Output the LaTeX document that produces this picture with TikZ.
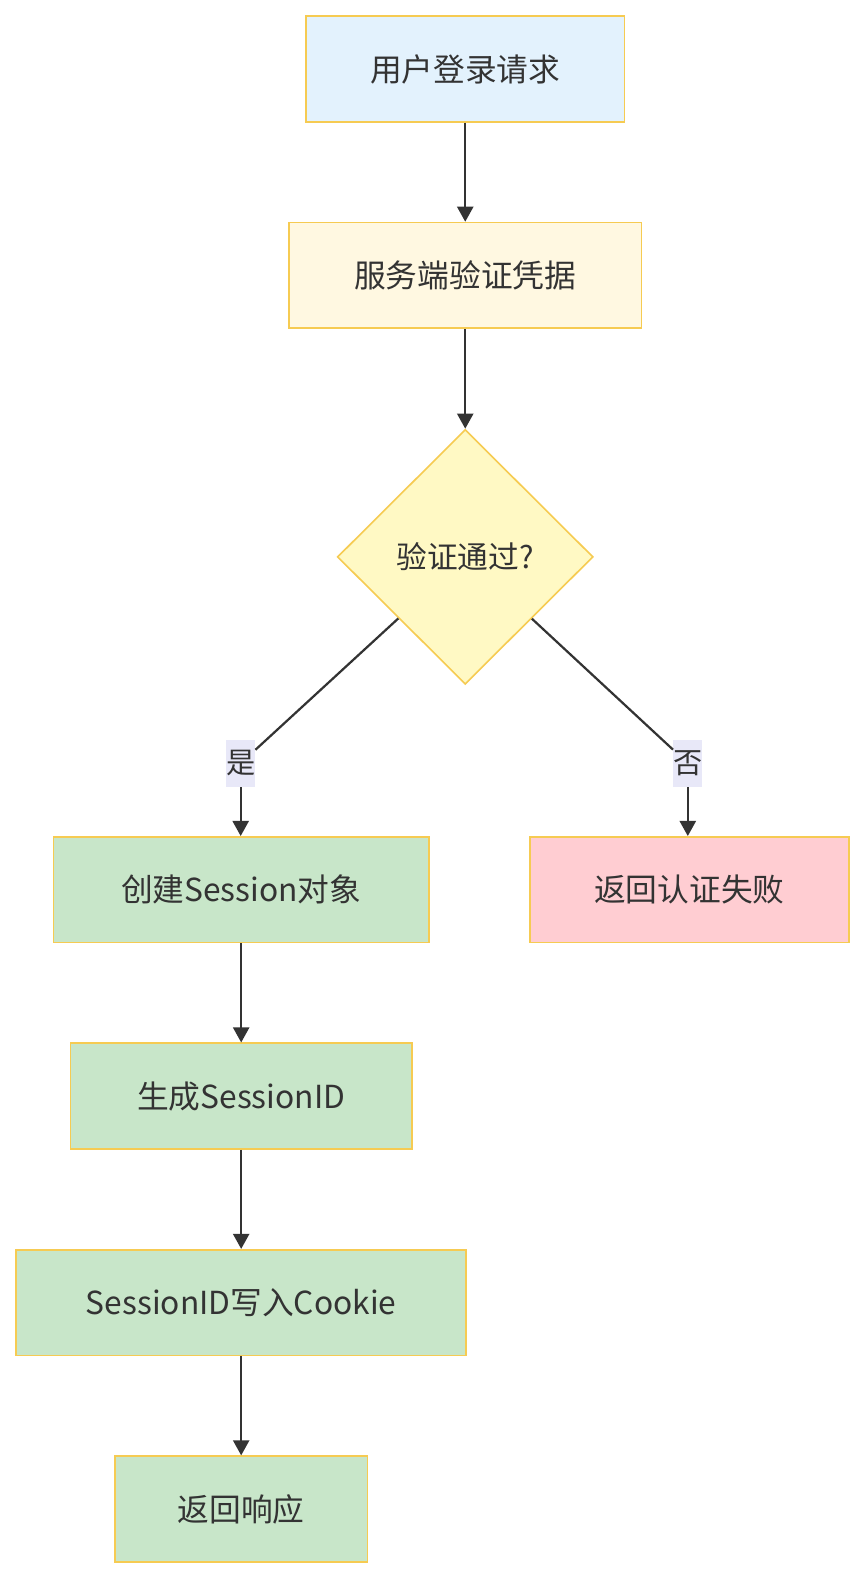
\documentclass[tikz,border=0pt]{standalone}
\usepackage{fontspec}
\setmainfont{Noto Sans CJK SC}
\usetikzlibrary{shapes.geometric,arrows.meta}
\definecolor{bord}{HTML}{F6CB52}
\definecolor{txt}{HTML}{333333}
\definecolor{cblue}{HTML}{E3F2FD}
\definecolor{cyel}{HTML}{FFF8E1}
\definecolor{cdia}{HTML}{FFF9C4}
\definecolor{cgreen}{HTML}{C8E6C9}
\definecolor{cpink}{HTML}{FFCDD2}
\definecolor{clab}{HTML}{E8E8F8}
\tikzset{
  box/.style={draw=bord, line width=1.6bp, minimum height=105bp, inner sep=0pt, text=txt, font=\fontsize{31.5bp}{35bp}\selectfont},
  dia/.style={diamond, draw=bord, line width=1.6bp, fill=cdia, minimum width=254bp, minimum height=253bp, inner sep=0pt, text=txt, font=\fontsize{30.5bp}{34bp}\selectfont},
  lab/.style={fill=clab, inner sep=0pt, minimum width=28bp, minimum height=47bp, text=txt, font=\fontsize{29bp}{32bp}\selectfont},
  conn/.style={draw=txt, line width=2.2bp, -{Triangle[length=15bp,width=16bp]}},
  plain/.style={draw=txt, line width=2.2bp}
}
\begin{document}
\begin{tikzpicture}[x=1bp,y=-1bp]
\useasboundingbox[fill=white] (0,0) rectangle (858,1567);
\node[box, fill=cblue, minimum width=316bp] (a) at (462,68.5) {用户登录请求};
\node[box, fill=cyel, minimum width=350bp] (b) at (462,273.5) {服务端验证凭据};
\node[dia] (c) at (462,553) {验证通过?};
\node[box, fill=cgreen, minimum width=373bp] (d) at (239.5,883.5) {创建Session对象};
\node[box, fill=cpink, minimum width=317bp] (e) at (684.5,883.5) {返回认证失败};
\node[box, fill=cgreen, minimum width=339bp] (f) at (239.5,1088.5) {生成SessionID};
\node[box, fill=cgreen, minimum width=447bp] (g) at (239.5,1293.5) {SessionID写入Cookie};
\node[box, fill=cgreen, minimum width=251bp] (h) at (239.5,1498.5) {返回响应};
\node[lab] (ly) at (239,758) {是};
\node[lab] (ln) at (683,758) {否};
\draw[conn] (a) -- (b);
\draw[conn] (b) -- (c);
\draw[plain] (c) -- (ly);
\draw[conn] (ly) -- (ly |- d.north);
\draw[plain] (c) -- (ln);
\draw[conn] (ln) -- (ln |- e.north);
\draw[conn] (d) -- (f);
\draw[conn] (f) -- (g);
\draw[conn] (g) -- (h);
\end{tikzpicture}
\end{document}
